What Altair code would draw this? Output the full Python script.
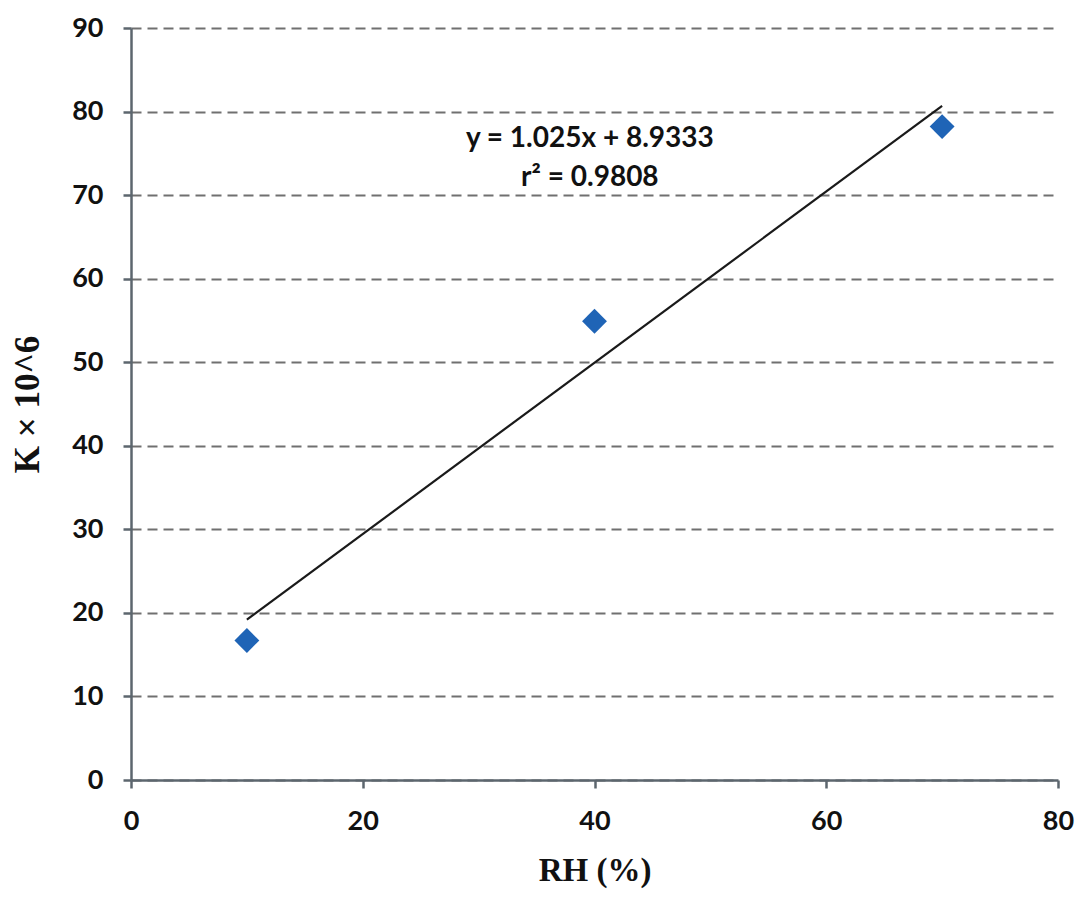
import altair as alt
import pandas as pd

rh = [10, 40, 70]
k_vals = [16.7, 54.9, 78.2]
eq_lines = ["y = 1.025x + 8.9333", "r² = 0.9808"]
eq_x = [39.6, 39.6]
eq_y = [76.7, 72.0]

df = pd.DataFrame({"RH": rh, "K": k_vals})
tx = pd.DataFrame({"x": eq_x, "y": eq_y, "t": eq_lines})

xscale = alt.Scale(domain=[0, 80], nice=False)
yscale = alt.Scale(domain=[0, 90], nice=False)

xaxis = alt.Axis(values=[0, 20, 40, 60, 80], title="RH (%)", grid=False, labelFlush=False,
                 labelFont="Lato", labelFontWeight="bold", labelFontSize=27, labelColor="#111",
                 titleFont="Liberation Serif", titleFontWeight="bold", titleFontSize=33, titleColor="#111",
                 labelPadding=20, titlePadding=20, tickSize=8, tickWidth=2.5, tickColor="#5c666e",
                 domainColor="#5c666e", domainWidth=2.5)
yaxis = alt.Axis(values=list(range(0, 91, 10)), title="K × 10^6", grid=True, labelFlush=False,
                 gridDash=[10, 6], gridColor="#707070", gridWidth=2,
                 labelFont="Lato", labelFontWeight="bold", labelFontSize=27, labelColor="#111",
                 titleFont="Liberation Serif", titleFontWeight="bold", titleFontSize=35, titleColor="#111",
                 labelPadding=20, titlePadding=26, tickSize=8, tickWidth=2.5, tickColor="#5c666e",
                 domainColor="#5c666e", domainWidth=2.5)

base = alt.Chart(df)
pts = base.mark_point(shape="diamond", filled=True, size=620, color="#1f64b6", opacity=1).encode(
    x=alt.X("RH:Q", scale=xscale, axis=xaxis),
    y=alt.Y("K:Q", scale=yscale, axis=yaxis),
)
line = base.transform_regression("RH", "K", extent=[10, 70]).mark_line(
    color="#1a1a1a", strokeWidth=2.2).encode(
    x=alt.X("RH:Q", scale=xscale),
    y=alt.Y("K:Q", scale=yscale),
)
text = alt.Chart(tx).mark_text(font="Lato", fontWeight="bold", fontSize=28, color="#111").encode(
    x=alt.X("x:Q", scale=xscale),
    y=alt.Y("y:Q", scale=yscale),
    text="t:N",
)

chart = alt.layer(line, pts, text).properties(
    width=927, height=752,
    autosize=alt.AutoSizeParams(type="none"),
    padding={"left": 123, "top": 20, "right": 20, "bottom": 110},
).configure_view(stroke=None)

chart.save("out.html", embed_options={"renderer": "svg", "actions": False})
